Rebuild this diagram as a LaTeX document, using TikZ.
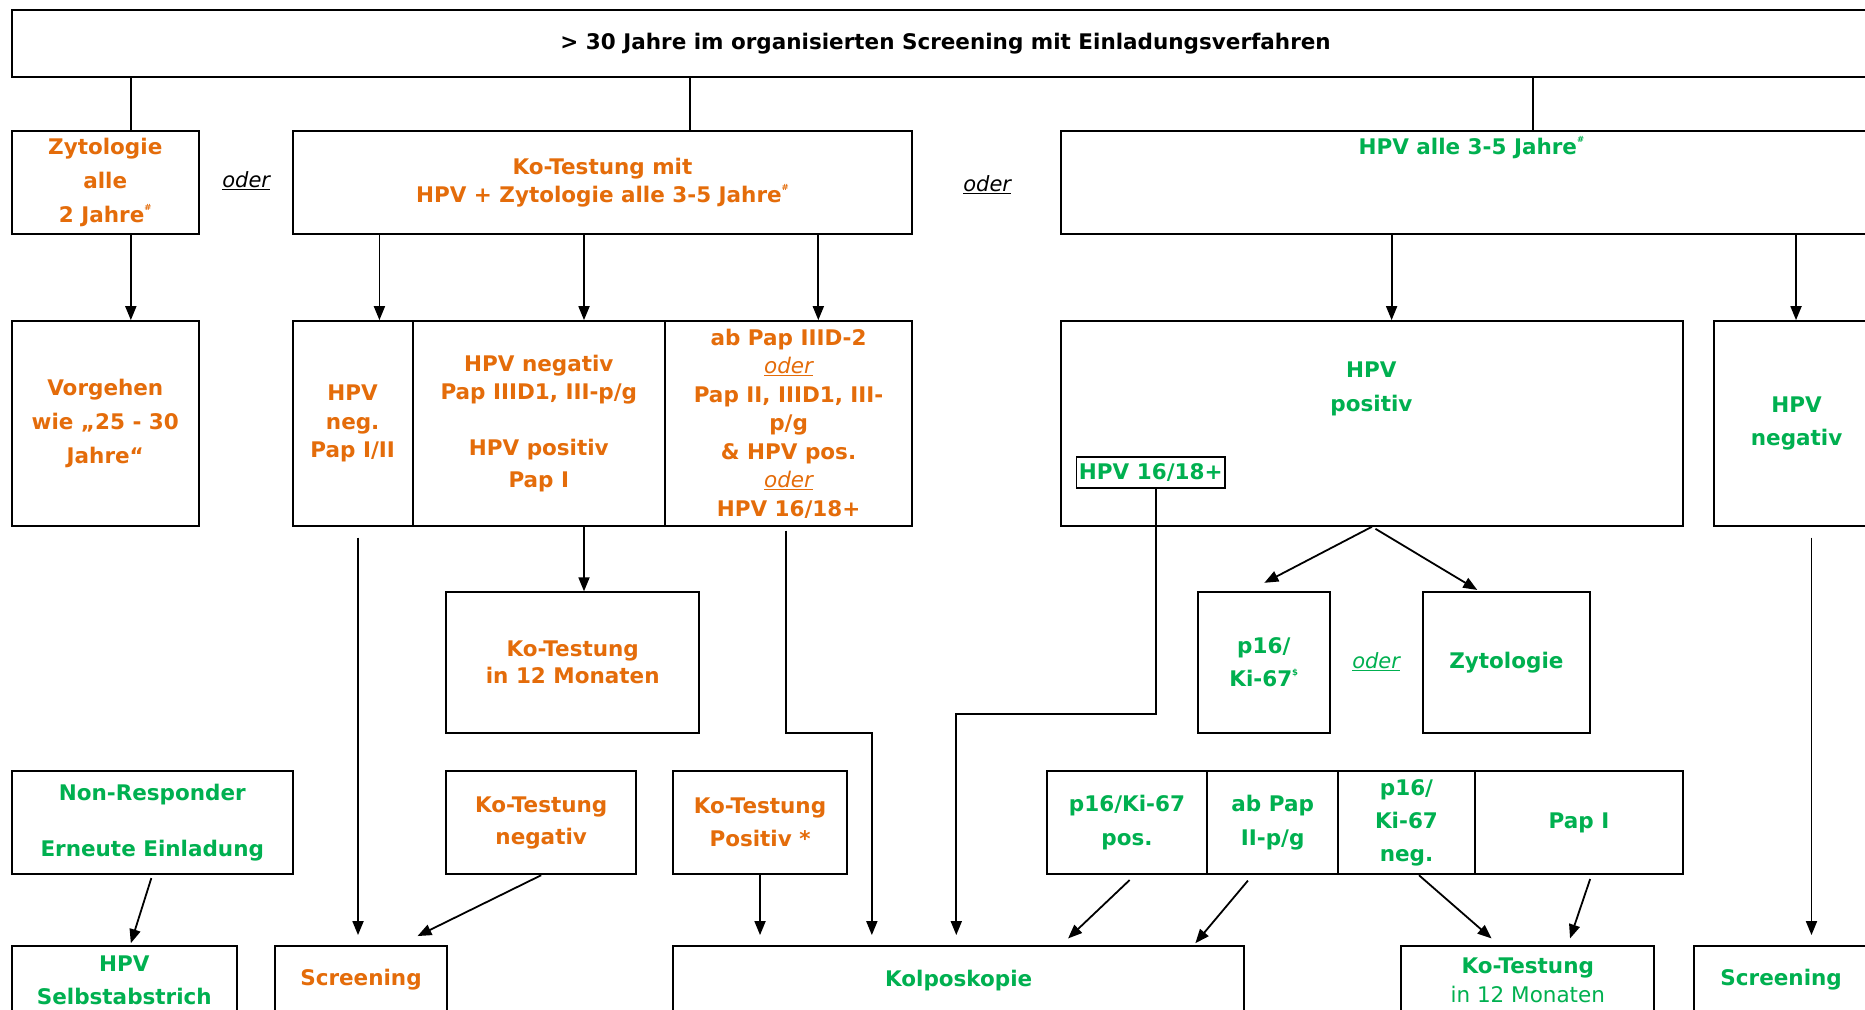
\documentclass[tikz,border=0pt]{standalone}
\usepackage{fontspec}
\setmainfont{DejaVu Sans}
\usetikzlibrary{calc,arrows.meta}
\definecolor{orng}{HTML}{E46C0A}
\definecolor{grn}{HTML}{00B050}
% small raised footnote marks
\newcommand\hochz[1]{\raisebox{0.55em}{\fontsize{8.5}{8.5}\selectfont #1}}
% the word "oder" between alternatives
\newcommand\oderu{{\mdseries\itshape\underline{oder}}}
\begin{document}
\begin{tikzpicture}[x=1.1894pt,y=-1.1894pt,
  box/.style={draw, line width=2pt, inner sep=0pt, align=center},
  % cellbox={left}{top}{right}{bottom}
  cellbox/.style n args={4}{at={({(#1+#3)/2},{(#2+#4)/2})},
    minimum width={(#3-#1)*1.1894pt}, minimum height={(#4-#2)*1.1894pt}},
  fs/.style={font=\bfseries\fontsize{21.5}{#1}\selectfont},
  fs/.default=28,
  ot/.style={text=orng},
  gt/.style={text=grn},
  odertxt/.style={font=\itshape\fontsize{21}{24}\selectfont, inner sep=0pt},
  conn/.style={line width=1.8pt},
  arr/.style={conn, -{Triangle[length=14pt,width=11pt]}},
]
\fill[white] (0,0) rectangle (1568,849);
\clip (0,0) rectangle (1568,849);

% ---------- top level ----------
\node[box, fs, cellbox={10}{8}{1580}{65}] (top)
  {> 30 Jahre im organisierten Screening mit Einladungsverfahren};

\node[box, fs=34, ot, cellbox={10}{110}{167}{197}] (zyt)
  {Zytologie\\alle\\2 Jahre\hochz{\#}};
\node[odertxt] (oder1) at (207,152) {\underline{oder}};
\node[box, fs=27.5, ot, cellbox={246}{110}{767}{197}] (kot)
  {Ko-Testung mit\\HPV + Zytologie alle 3-5 Jahre\hochz{\#}};
\node[odertxt] (oder2) at (830,155) {\underline{oder}};
\node[box, cellbox={892}{110}{1580}{197}] (hpvalle) {};
\node[fs, gt] (hpvalletxt) at (1237,124) {HPV alle 3-5 Jahre\hochz{\#}};

% ---------- second level ----------
\node[box, fs=34, ot, cellbox={10}{270}{167}{442}] (vorg)
  {Vorgehen\\wie „25 - 30\\Jahre“};
\node[box, fs=28.5, ot, cellbox={246}{270}{347}{442}] (c1)
  {HPV\\neg.\\Pap I/II};
\node[box, fs=28.5, ot, cellbox={347}{270}{559}{442}] (c2)
  {HPV negativ\\Pap IIID1, III-p/g\\[27pt]HPV positiv\\[4pt]Pap I};
\node[box, fs=28.5, ot, cellbox={559}{270}{767}{442}] (c3)
  {ab Pap IIID-2\\\oderu\\Pap II, IIID1, III-\\p/g\\\& HPV pos.\\\oderu\\HPV 16/18+};

\node[box, cellbox={892}{270}{1415}{442}] (hpvpos) {};
\node[fs=34.5, gt, align=center] (hpvpostxt) at (1153,327) {HPV\\positiv};
\node[box, fs, gt, line width=1.7pt, cellbox={905}{384}{1030}{410}] (h1618) {HPV 16/18+};
\node[box, fs=33, gt, cellbox={1441}{270}{1580}{442}] (hpvneg) {HPV\\negativ};

% ---------- third level ----------
\node[box, fs=27.5, ot, cellbox={375}{498}{588}{616}] (kot12) {Ko-Testung\\in 12 Monaten};
\node[box, fs=33, gt, cellbox={1007}{498}{1118}{616}] (p16) {p16/\\Ki-67\hochz{\$}};
\node[odertxt, text=grn] (oder3) at (1157,556) {\underline{oder}};
\node[box, fs, gt, cellbox={1196}{498}{1337}{616}] (zyt2) {Zytologie};

% ---------- fourth level ----------
\node[box, fs=28.5, gt, cellbox={10}{648}{246}{735}] (nonresp)
  {Non-Responder\\[28pt]Erneute Einladung};
\node[box, fs=32, ot, cellbox={375}{648}{535}{735}] (kotneg) {Ko-Testung\\negativ};
\node[box, fs=33, ot, cellbox={566}{648}{712}{735}] (kotpos) {Ko-Testung\\Positiv *};
\node[box, fs=34.5, gt, cellbox={880}{648}{1015}{735}] (r1) {p16/Ki-67\\pos.};
\node[box, fs=34.5, gt, cellbox={1015}{648}{1125}{735}] (r2) {ab Pap\\II-p/g};
\node[box, fs=33, gt, cellbox={1125}{648}{1240}{735}] (r3) {p16/\\Ki-67\\neg.};
\node[box, fs, gt, cellbox={1240}{648}{1415}{735}] (r4) {Pap I};

% ---------- bottom row ----------
\node[box, fs=33, gt, cellbox={10}{795}{199}{853}] (selbst) {HPV\\Selbstabstrich};
\node[box, fs, ot, cellbox={231}{795}{376}{853}] (scr1) {Screening};
\node[box, fs, gt, cellbox={566}{795}{1046}{853}] (kolpo) {Kolposkopie};
\node[box, fs=28.5, gt, cellbox={1178}{795}{1391}{853}] (kot12g) {Ko-Testung\\\mdseries in 12 Monaten};
\node[box, fs, gt, cellbox={1424}{795}{1571}{853}] (scr2) {Screening};

% ---------- x positions of the vertical connectors ----------
\coordinate (xa) at (110,0);
\coordinate (xb) at (580,0);
\coordinate (xc) at (1289,0);
\coordinate (xd) at (319,0);
\coordinate (xe) at (491,0);
\coordinate (xf) at (688,0);
\coordinate (xg) at (1170,0);
\coordinate (xh) at (1510,0);
\coordinate (xk) at (301,0);
\coordinate (xl) at (661,0);
\coordinate (xl2) at (733,0);
\coordinate (xm) at (972,0);
\coordinate (xm2) at (804,0);
\coordinate (xp) at (1523,0);
\coordinate (bendl) at (661,616);
\coordinate (bendm) at (972,600);

% free arrow tips
\coordinate (tipn) at (1063,490);
\coordinate (tipo) at (1242,496);
\coordinate (tipq) at (110,793);
\coordinate (tipr) at (351,787);
\coordinate (tipt) at (898,789);
\coordinate (tipu) at (1005,793);
\coordinate (tipv) at (1254,789);
\coordinate (tipw) at (1320,789);
\coordinate (st) at (954,0);
\coordinate (su) at (1053,0);
\coordinate (sv) at (1193,0);
\coordinate (sw) at (1338,0);

% ---------- connectors ----------
\draw[conn] (top.south -| xa) -- (zyt.north -| xa);
\draw[conn] (top.south -| xb) -- (kot.north -| xb);
\draw[conn] (top.south -| xc) -- (hpvalle.north -| xc);

\draw[arr] (zyt.south -| xa) -- (vorg.north -| xa);
\draw[arr] (kot.south -| xd) -- (c1.north -| xd);
\draw[arr] (kot.south -| xe) -- (c2.north -| xe);
\draw[arr] (kot.south -| xf) -- (c3.north -| xf);
\draw[arr] (hpvalle.south -| xg) -- (hpvpos.north -| xg);
\draw[arr] (hpvalle.south -| xh) -- (hpvneg.north -| xh);
\draw[arr] (c2.south -| xe) -- (kot12.north -| xe);

\draw[arr, shorten <=11pt, shorten >=9.5pt] (c1.south -| xk) -- (scr1.north -| xk);
\draw[arr, shorten <=4pt, shorten >=9.5pt] (c3.south -| xl) -- (bendl) -| (kolpo.north -| xl2);
\draw[arr, shorten >=9.5pt] (h1618.south -| xm) -- (bendm) -| (kolpo.north -| xm2);
\draw[arr] (hpvpos.south) -- (tipn);
\draw[arr, shorten <=4pt] (hpvpos.south) -- (tipo);
\draw[arr, shorten <=11pt, shorten >=9.5pt] (hpvneg.south -| xp) -- (scr2.north -| xp);

\draw[arr, shorten <=3pt] (nonresp.south) -- (tipq);
\draw[arr] (kotneg.south) -- (tipr);
\draw[arr, shorten >=9.5pt] (kotpos.south) -- (kolpo.north -| kotpos.south);
\draw[arr, shorten <=7pt] (r1.south -| st) -- (tipt);
\draw[arr, shorten <=7pt] (r2.south -| su) -- (tipu);
\draw[arr] (r3.south -| sv) -- (tipv);
\draw[arr, shorten <=4pt] (r4.south -| sw) -- (tipw);
\end{tikzpicture}
\end{document}
